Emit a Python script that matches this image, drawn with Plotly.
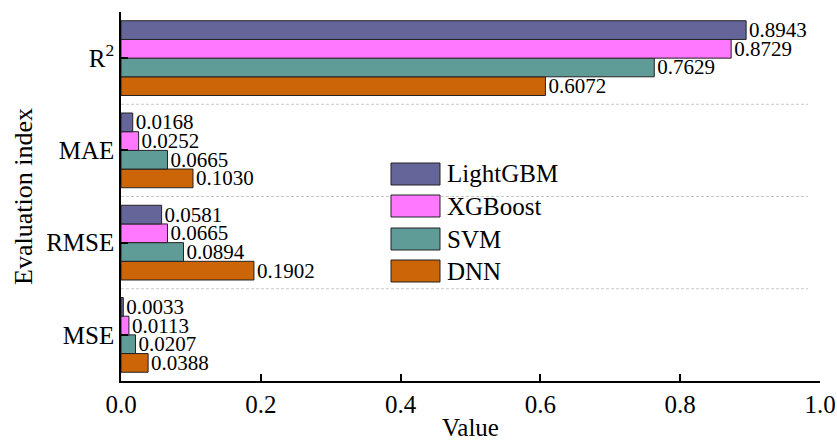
import plotly.graph_objects as go

# Evaluation metrics (bottom to top on the y axis)
metrics = ["MSE", "RMSE", "MAE", "R<sup>2</sup>"]
models = ["LightGBM", "XGBoost", "SVM", "DNN"]
colors = ["#65659A", "#FF78FF", "#5F9B97", "#CC6508"]

lightgbm = [0.0033, 0.0581, 0.0168, 0.8943]
xgboost = [0.0113, 0.0665, 0.0252, 0.8729]
svm = [0.0207, 0.0894, 0.0665, 0.7629]
dnn = [0.0388, 0.1902, 0.1030, 0.6072]

values = {"LightGBM": lightgbm, "XGBoost": xgboost, "SVM": svm, "DNN": dnn}
ypos = list(range(len(metrics)))

FONT = "Liberation Serif, Times New Roman, serif"

fig = go.Figure()
# Horizontal groups stack their traces from the bottom up, so add DNN first
for name, color in reversed(list(zip(models, colors))):
    fig.add_trace(go.Bar(
        name=name,
        y=ypos,
        x=values[name],
        orientation="h",
        marker=dict(color=color, line=dict(color="#222222", width=1)),
        text=[f"{v:.4f}" for v in values[name]],
        textposition="outside",
        constraintext="none",
        textfont=dict(family=FONT, size=21, color="black"),
        cliponaxis=False,
        showlegend=False,
    ))

# Dashed separators between metric groups
shapes = []
for yb in [0.5, 1.5, 2.5]:
    shapes.append(dict(type="line", xref="x", yref="y", x0=0, x1=0.983, y0=yb, y1=yb,
                       line=dict(color="#C8C8C8", width=1, dash="3px,2px"), layer="below"))

# Legend drawn as boxes with labels
annotations = []
leg_x0, leg_x1 = 391, 440
leg_tops = [163, 195, 228, 260]
W, H = 837, 441
ml, mr, mt, mb = 121, 17, 12, 60
pw, ph = W - ml - mr, H - mt - mb


def px_to_paper_x(px):
    return (px - ml) / pw


def px_to_paper_y(py):
    return 1 - (py - mt) / ph


for name, color, top in zip(models, colors, leg_tops):
    shapes.append(dict(type="rect", xref="paper", yref="paper",
                       x0=px_to_paper_x(leg_x0), x1=px_to_paper_x(leg_x1),
                       y0=px_to_paper_y(top + 22), y1=px_to_paper_y(top),
                       fillcolor=color, line=dict(color="#222222", width=1)))
    annotations.append(dict(xref="paper", yref="paper", x=px_to_paper_x(445),
                            y=px_to_paper_y(top + 11), text=name, showarrow=False,
                            xanchor="left", yanchor="middle",
                            font=dict(family=FONT, size=25, color="black")))

fig.update_layout(
    width=W, height=H,
    margin=dict(l=ml, r=mr, t=mt, b=mb),
    paper_bgcolor="white", plot_bgcolor="white",
    barmode="group", bargap=0.19, bargroupgap=0,
    font=dict(family=FONT, color="black"),
    shapes=shapes, annotations=annotations,
    showlegend=False,
)
fig.update_xaxes(
    range=[0, 1.0], tickvals=[0, 0.2, 0.4, 0.6, 0.8, 1.0],
    ticktext=["0.0", "0.2", "0.4", "0.6", "0.8", "1.0"],
    ticks="inside", ticklen=7, tickwidth=1.5, tickcolor="black",
    showline=True, linecolor="black", linewidth=1.5, showgrid=False, zeroline=False,
    automargin=False,
    tickfont=dict(family=FONT, size=25),
    title=dict(text="Value", font=dict(family=FONT, size=25), standoff=6),
)
fig.update_yaxes(
    range=[-0.5, 3.5], tickvals=ypos, ticktext=metrics,
    ticks="inside", ticklen=7, tickwidth=1.5, tickcolor="black",
    showline=True, linecolor="black", linewidth=1.5, showgrid=False, zeroline=False,
    automargin=False,
    tickfont=dict(family=FONT, size=25),
    title=dict(text="Evaluation index", font=dict(family=FONT, size=26), standoff=6),
)

fig.write_html("out.html")
